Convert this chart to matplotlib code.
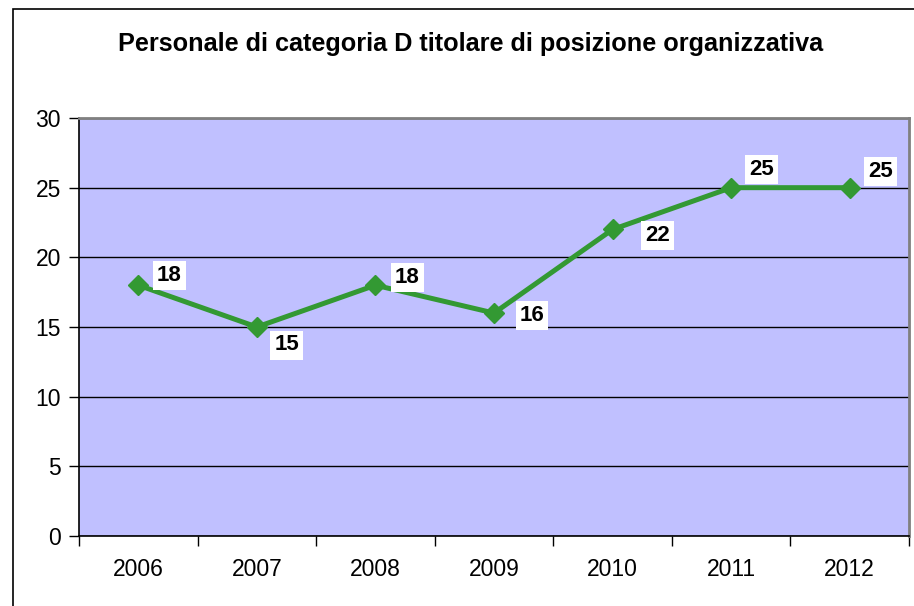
import matplotlib
matplotlib.use('Agg')
import matplotlib.pyplot as plt
from matplotlib.patches import Rectangle

plt.rcParams['font.family'] = ['Liberation Sans', 'DejaVu Sans']

# dati
anni = ['2006', '2007', '2008', '2009', '2010', '2011', '2012']
valori = [18, 15, 18, 16, 22, 25, 25]
titolo = 'Personale di categoria D titolare di posizione organizzativa'

# posizione delle etichette (in pixel rispetto al punto)
offsets = [(31, 10), (30, -18), (32, 8), (38, -2), (45, -6), (30, 18), (31, 16)]

W, H = 914, 606
fig = plt.figure(figsize=(W / 100, H / 100), dpi=100)
fig.patch.set_facecolor('white')

# cornice del grafico
fig.add_artist(Rectangle((13 / W, -0.1), 2, 1 - 9 / H + 0.1, transform=fig.transFigure,
                         fill=False, edgecolor='black', linewidth=1.2))

ax = fig.add_axes([79 / W, (H - 536) / H, 830 / W, 418 / H])
ax.set_facecolor('#C0C0FF')

x = list(range(len(anni)))
ax.plot(x, valori, color='#339933', linewidth=3.6, marker='D', markersize=10.5,
        zorder=3, clip_on=False)

for xi, v, (dx, dy) in zip(x, valori, offsets):
    ax.annotate(str(v), (xi, v), xytext=(dx * 0.72, dy * 0.72), textcoords='offset points',
                ha='center', va='center', fontsize=16, fontweight='bold',
                bbox=dict(boxstyle='square,pad=0.18', facecolor='white', edgecolor='none'),
                zorder=4)

ax.set_xlim(-0.5, len(anni) - 0.5)
ax.set_ylim(0, 30)
ax.set_yticks(range(0, 31, 5))
ax.grid(axis='y', color='black', linewidth=1)
ax.set_axisbelow(True)

# tacche tra le categorie, etichette al centro
ax.set_xticks([i - 0.5 for i in range(len(anni) + 1)])
ax.set_xticklabels([])
ax.set_xticks(x, minor=True)
ax.set_xticklabels(anni, minor=True)
ax.tick_params(axis='x', which='major', length=7, width=1, direction='out')
ax.tick_params(axis='x', which='minor', length=0, pad=16, labelsize=16.5)
ax.tick_params(axis='y', length=7, width=1, direction='out', pad=6, labelsize=16.5)

for s in ['left', 'bottom']:
    ax.spines[s].set_color('black')
    ax.spines[s].set_linewidth(1.2)
for s in ['top', 'right']:
    ax.spines[s].set_color('#808080')
    ax.spines[s].set_linewidth(2)

fig.text(471 / W, 1 - 44 / H, titolo, ha='center', va='center',
         fontsize=18.2, fontweight='bold')

fig.savefig('out.png', dpi=100)
